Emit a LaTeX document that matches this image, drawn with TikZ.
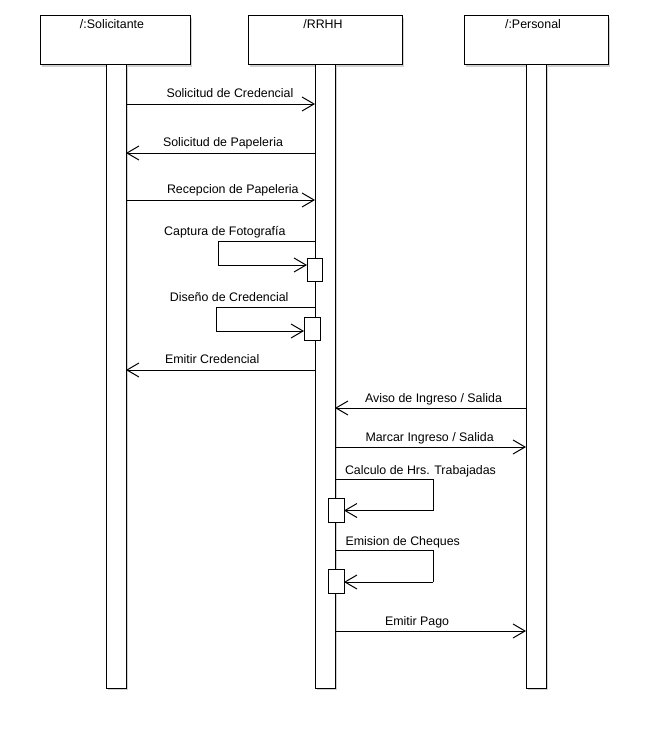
\documentclass[tikz,border=0pt]{standalone}
\usepackage{fontspec}
\setmainfont{Liberation Sans}
\usetikzlibrary{arrows.meta,shadows}
\begin{document}
\begin{tikzpicture}[x=1pt,y=-1pt,
  box/.style={draw,line width=1pt,fill=white,inner sep=0pt,outer sep=0pt,
    drop shadow={shadow xshift=2pt,shadow yshift=-2pt,fill=black!18,opacity=1}},
  actbox/.style={draw,line width=1pt,fill=white,inner sep=0pt,outer sep=0pt},
  lbl/.style={font=\fontsize{12.4}{14}\selectfont,inner sep=0pt,outer sep=0pt},
  msg/.style={line width=1pt,-{Straight Barb[length=12pt,width=14pt,line width=1pt]}},
  plain/.style={line width=1pt}
]
\useasboundingbox (0,0) rectangle (648,752);
\fill[white] (0,0) rectangle (648,752);

% lifeline headers
\node[box,minimum width=150pt,minimum height=49pt] (sol) at (115,40.5) {};
\node[box,minimum width=154pt,minimum height=49pt] (rrhh) at (325,40.5) {};
\node[box,minimum width=144pt,minimum height=49pt] (per) at (536,40.5) {};
\node[lbl,anchor=base] (solT) at (112,29) {/:Solicitante};
\node[lbl,anchor=base] (rrhhT) at (323,29) {/RRHH};
\node[lbl,anchor=base] (perT) at (533,29) {/:Personal};

% lifeline bars
\node[box,minimum width=20pt,minimum height=623pt] (barS) at (116,376.5) {};
\node[box,minimum width=20pt,minimum height=623pt] (barR) at (325,376.5) {};
\node[box,minimum width=20pt,minimum height=623pt] (barP) at (536,376.5) {};

% activation boxes
\node[actbox,minimum width=15pt,minimum height=23pt] (act1) at (314.5,269.5) {};
\node[actbox,minimum width=16pt,minimum height=23pt] (act2) at (312,328.5) {};
\node[actbox,minimum width=16pt,minimum height=24pt] (act3) at (336,510) {};
\node[actbox,minimum width=16pt,minimum height=24pt] (act4) at (336,581) {};

% messages
\draw[msg] (barS.east |- 0,104) -- (barR.west |- 0,104);
\node[lbl,anchor=base west] (m1) at (166.5,97.5) {Solicitud de Credencial};

\draw[msg] (barR.west |- 0,153) -- (barS.east |- 0,153);
\node[lbl,anchor=base west] (m2) at (163,146.5) {Solicitud de Papeleria};

\draw[msg] (barS.east |- 0,200) -- (barR.west |- 0,200);
\node[lbl,anchor=base west] (m3) at (167,193.5) {Recepcion de Papeleria};

\coordinate (c1a) at (218,241.5);
\coordinate (c1b) at (218,265);
\draw[plain] (barR.west |- c1a) -- (c1a) -- (c1b);
\draw[msg] (c1b) -- (act1.west |- c1b);
\node[lbl,anchor=base east] (m4) at (285.5,235.5) {Captura de Fotografía};

\coordinate (c2a) at (216,307.5);
\coordinate (c2b) at (216,331);
\draw[plain] (barR.west |- c2a) -- (c2a) -- (c2b);
\draw[msg] (c2b) -- (act2.west |- c2b);
\node[lbl,anchor=base east] (m5) at (288.5,301.5) {Diseño de Credencial};

\draw[msg] (barR.west |- 0,370) -- (barS.east |- 0,370);
\node[lbl,anchor=base west] (m6) at (165,363.5) {Emitir Credencial};

\draw[msg] (barP.west |- 0,408) -- (barR.east |- 0,408);
\node[lbl,anchor=base west] (m7) at (365,402) {Aviso de Ingreso / Salida};

\draw[msg] (barR.east |- 0,447) -- (barP.west |- 0,447);
\node[lbl,anchor=base west] (m8) at (365.5,441) {Marcar Ingreso / Salida};

\coordinate (c3a) at (433,479);
\coordinate (c3b) at (433,510.5);
\draw[plain] (barR.east |- c3a) -- (c3a) -- (c3b);
\draw[msg] (c3b) -- (act3.east |- c3b);
\node[lbl,anchor=base west] (m9) at (345,474.5) {Calculo de Hrs. Trabajadas};

\coordinate (c4a) at (433,550);
\coordinate (c4b) at (433,582);
\draw[plain] (barR.east |- c4a) -- (c4a) -- (c4b);
\draw[msg] (c4b) -- (act4.east |- c4b);
\node[lbl,anchor=base west] (m10) at (345.5,545.5) {Emision de Cheques};

\draw[msg] (barR.east |- 0,631) -- (barP.west |- 0,631);
\node[lbl,anchor=base west] (m11) at (385,625) {Emitir Pago};
\end{tikzpicture}
\end{document}
